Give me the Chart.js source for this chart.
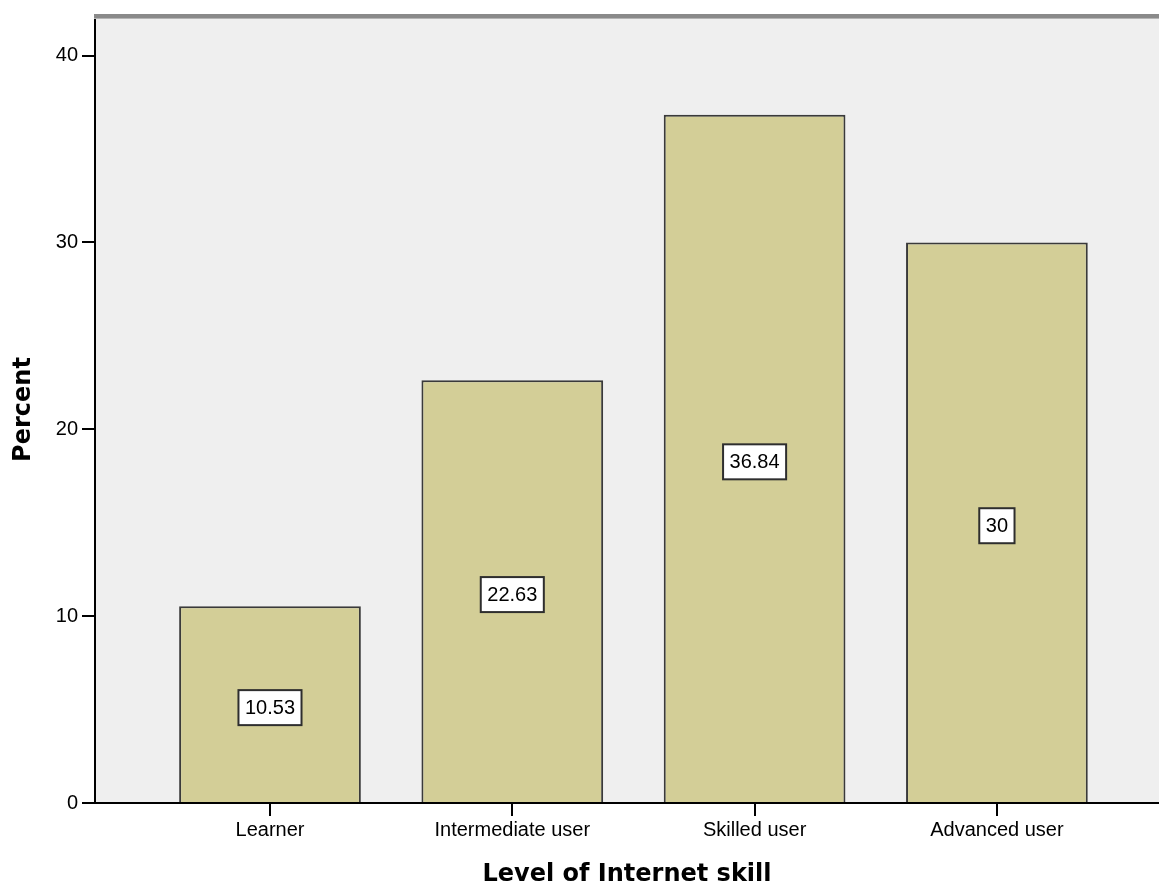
<!DOCTYPE html>
<html><head><meta charset="utf-8">
<script src="https://cdn.jsdelivr.net/npm/chart.js@4.4.1/dist/chart.umd.min.js"></script>
<style>html,body{margin:0;padding:0;background:#fff;overflow:hidden}#wrap{width:1159px;height:887px;position:relative}</style>
</head><body><div id="wrap"><canvas id="c"></canvas></div>
<script>
const categories = ['Learner', 'Intermediate user', 'Skilled user', 'Advanced user'];
const percentValues = [10.53, 22.63, 36.84, 30];
const valueLabels = ['10.53', '22.63', '36.84', '30'];
const yTickValues = [0, 10, 20, 30, 40];
const xAxisTitle = 'Level of Internet skill';
const yAxisTitle = 'Percent';

const plotBg = {
  id: 'plotBg',
  beforeDraw(chart) {
    const {ctx, chartArea: a} = chart;
    ctx.save();
    ctx.fillStyle = '#efefef';
    ctx.fillRect(a.left, a.top, a.right - a.left, a.bottom - a.top);
    ctx.restore();
  },
  afterDraw(chart) {
    const {ctx, chartArea: a} = chart;
    ctx.save();
    ctx.fillStyle = '#8a8a8a';
    ctx.fillRect(a.left - 1, a.top - 2, a.right - a.left + 1, 4);
    ctx.fillStyle = '#b5b5b5';
    ctx.fillRect(a.left - 1, a.top + 2, a.right - a.left + 1, 1);
    ctx.restore();
  }
};

const boxLabels = {
  id: 'boxLabels',
  afterDatasetsDraw(chart) {
    const {ctx} = chart;
    const meta = chart.getDatasetMeta(0);
    ctx.save();
    ctx.font = '20px "Liberation Sans", Arial, sans-serif';
    ctx.textAlign = 'center';
    ctx.textBaseline = 'middle';
    meta.data.forEach((bar, i) => {
      const p = bar.getProps(['x', 'y', 'base'], true);
      const cx = p.x;
      const cy = (p.y + p.base) / 2 + 3.5;
      const txt = valueLabels[i];
      const w = ctx.measureText(txt).width + 13;
      const h = 35;
      ctx.fillStyle = '#ffffff';
      ctx.fillRect(cx - w / 2, cy - h / 2, w, h);
      ctx.strokeStyle = '#2e2e2e';
      ctx.lineWidth = 2;
      ctx.strokeRect(cx - w / 2, cy - h / 2, w, h);
      ctx.fillStyle = '#000';
      ctx.fillText(txt, cx, cy + 1);
    });
    ctx.restore();
  }
};

new Chart(document.getElementById('c'), {
  type: 'bar',
  data: {
    datasets: [{
      data: categories.map((c, i) => ({x: i + 1, y: percentValues[i]})),
      backgroundColor: '#d3ce97',
      borderColor: '#3a3a3a',
      borderWidth: 2,
      borderSkipped: 'start',
      categoryPercentage: 0.75,
      barPercentage: 1
    }]
  },
  options: {
    responsive: true,
    maintainAspectRatio: false,
    animation: false,
    devicePixelRatio: 1,
    layout: {padding: {top: 16, right: 0, bottom: 0, left: 0}},
    plugins: {legend: {display: false}, tooltip: {enabled: false}},
    scales: {
      x: {
        type: 'linear',
        offset: false,
        min: 0.2778,
        max: 4.669,
        afterBuildTicks: s => { s.ticks = categories.map((c, i) => ({value: i + 1})); },
        afterFit: s => { s.height = 84; },
        ticks: {
          autoSkip: false, maxRotation: 0, padding: 2, color: '#000',
          font: {family: '"Liberation Sans", Arial, sans-serif', size: 20},
          callback: v => categories[Math.round(v) - 1]
        },
        grid: {offset: false, drawOnChartArea: false, drawTicks: true, tickLength: 13, color: '#000', lineWidth: 2},
        border: {display: true, color: '#000', width: 2},
        title: {
          display: true, text: xAxisTitle, color: '#000',
          font: {family: '"DejaVu Sans", sans-serif', size: 24, weight: 'bold', lineHeight: 1},
          padding: {top: 0, bottom: 0}
        }
      },
      y: {
        min: 0,
        max: 42.12,
        afterBuildTicks: s => { s.ticks = yTickValues.map(v => ({value: v})); },
        afterFit: s => { s.width = 95; },
        ticks: {
          padding: 4, color: '#000',
          font: {family: '"Liberation Sans", Arial, sans-serif', size: 20}
        },
        grid: {drawOnChartArea: false, drawTicks: true, tickLength: 13, color: '#000', lineWidth: 2},
        border: {display: true, color: '#000', width: 2},
        title: {
          display: true, text: yAxisTitle, color: '#000',
          font: {family: '"DejaVu Sans", sans-serif', size: 24, weight: 'bold', lineHeight: 1},
          padding: {top: 12, bottom: 0}
        }
      }
    }
  },
  plugins: [plotBg, boxLabels]
});
</script>
</body></html>
